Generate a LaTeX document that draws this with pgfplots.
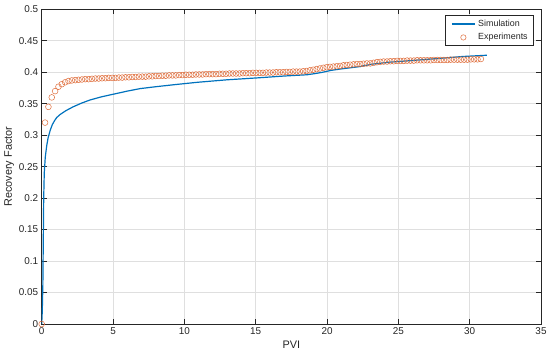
\documentclass[border=0pt]{standalone}
\usepackage{pgfplots}
\pgfplotsset{compat=1.18}
\usepackage{fontspec}
\setmainfont{Liberation Sans}
\definecolor{mblue}{HTML}{0072BD}
\definecolor{morange}{HTML}{D95319}
\definecolor{axc}{HTML}{262626}
\definecolor{gridc}{HTML}{DFDFDF}
\pgfplotsset{
  simleg/.style={legend image code/.code={\path (0bp,0bp); \draw[draw=mblue, line width=1.3bp] (2.4bp,0bp) -- (25.4bp,0bp);}},
  expleg/.style={legend image code/.code={\path (0bp,0bp) (25.4bp,0bp); \draw[draw=morange!85, line width=0.5bp] (13.9bp,0bp) circle[radius=2.7bp];}},
}
\pgfplotstableread{
x y
0 0
0.235 0.320
0.47 0.345
0.705 0.360
0.94 0.370
1.175 0.377
1.41 0.381
1.645 0.384
1.88 0.386
2.115 0.387
2.35 0.3875
2.585 0.388
2.82 0.3885
3.055 0.389
3.29 0.389
3.525 0.3895
3.76 0.390
3.995 0.390
4.23 0.3905
4.465 0.3905
4.70 0.391
4.935 0.391
5.17 0.391
5.405 0.3915
5.64 0.3915
5.875 0.392
6.11 0.392
6.345 0.3925
6.58 0.3925
6.815 0.393
7.05 0.393
7.285 0.393
7.52 0.3935
7.755 0.3935
7.99 0.394
8.225 0.394
8.46 0.3945
8.695 0.3945
8.93 0.395
9.165 0.395
9.40 0.395
9.635 0.3955
9.87 0.3955
10.105 0.396
10.34 0.396
10.575 0.396
10.81 0.3965
11.045 0.3965
11.28 0.3965
11.515 0.397
11.75 0.397
11.985 0.397
12.22 0.397
12.455 0.3975
12.69 0.3975
12.925 0.3975
13.16 0.398
13.395 0.398
13.63 0.398
13.865 0.398
14.10 0.3985
14.335 0.3985
14.57 0.3985
14.805 0.399
15.04 0.399
15.275 0.399
15.51 0.399
15.745 0.3995
15.98 0.3995
16.215 0.3995
16.45 0.400
16.685 0.400
16.92 0.400
17.155 0.4005
17.39 0.4005
17.625 0.401
17.86 0.401
18.095 0.401
18.33 0.4015
18.565 0.402
18.80 0.403
19.035 0.404
19.27 0.405
19.505 0.406
19.74 0.407
19.975 0.408
20.21 0.4085
20.445 0.409
20.68 0.4095
20.915 0.410
21.15 0.411
21.385 0.4115
21.62 0.412
21.855 0.4125
22.09 0.413
22.325 0.413
22.56 0.4135
22.795 0.414
23.03 0.414
23.265 0.415
23.5 0.416
23.735 0.4165
23.97 0.417
24.205 0.417
24.44 0.4175
24.675 0.4175
24.91 0.418
25.145 0.418
25.38 0.418
25.615 0.4185
25.85 0.4185
26.085 0.4185
26.32 0.419
26.555 0.419
26.79 0.419
27.025 0.419
27.26 0.419
27.495 0.4195
27.73 0.4195
27.965 0.4195
28.20 0.4195
28.435 0.4195
28.67 0.420
28.905 0.420
29.14 0.420
29.375 0.420
29.61 0.420
29.845 0.420
30.08 0.4205
30.315 0.4205
30.55 0.4205
30.785 0.421
}\exptable
\pgfplotstableread{
x y
0 0
0.04 0.02
0.08 0.06
0.11 0.13
0.14 0.20
0.18 0.24
0.25 0.265
0.35 0.283
0.45 0.296
0.6 0.308
0.75 0.317
0.9 0.323
1.05 0.328
1.3 0.333
1.7 0.339
2.2 0.345
2.8 0.351
3.4 0.356
4.2 0.361
5.0 0.365
6.0 0.370
6.9 0.374
8.0 0.377
9.2 0.380
10.9 0.384
13.0 0.388
15.1 0.391
17.0 0.394
18.6 0.396
19.2 0.398
19.7 0.400
20.3 0.403
20.9 0.405
22.3 0.409
23.2 0.413
24.4 0.416
25.6 0.418
27.9 0.422
29.5 0.425
31.2 0.427
}\simtable
\begin{document}
\begin{tikzpicture}
\begin{axis}[
  at={(0,0)}, anchor=south west,
  scale only axis, width=499.3bp, height=314.7bp,
  xmin=0, xmax=35, ymin=0, ymax=0.5,
  xtick={0,5,10,15,20,25,30,35},
  ytick={0,0.05,0.1,0.15,0.2,0.25,0.3,0.35,0.4,0.45,0.5},
  yticklabels={0,0.05,0.1,0.15,0.2,0.25,0.3,0.35,0.4,0.45,0.5},
  xticklabels={0,5,10,15,20,25,30,35},
  grid=major,
  major grid style={draw=gridc, line width=0.6bp},
  axis line style={draw=axc, line width=0.7bp},
  tick style={draw=axc, line width=0.7bp},
  tick align=inside,
  major tick length=5bp,
  xtick pos=both, ytick pos=both,
  ticklabel style={font=\fontsize{9.9bp}{11bp}\selectfont, text=axc},
  xlabel={PVI}, ylabel={Recovery Factor},
  ylabel style={yshift=-2bp},
  label style={font=\fontsize{10.9bp}{12bp}\selectfont, text=axc},
  legend style={at={(1,1)}, anchor=north east, xshift=-7bp, yshift=-6.2bp,
    draw=axc, line width=0.6bp, font=\fontsize{8.9bp}{10bp}\selectfont,
    text=axc, inner xsep=3.3bp, inner ysep=2.5bp, row sep=1.9bp,
    nodes={inner xsep=2.7bp, inner ysep=1.5bp, text height=6.5bp, text depth=2bp}},
  legend cell align=left,
]
\addplot[mblue, line width=1.2bp, mark=none, simleg]
  table[x=x,y=y] {\simtable};
\addlegendentry{Simulation}
\addplot[only marks, mark=o, mark size=2.9bp, morange!85, mark options={line width=0.5bp}, expleg]
  table[x=x,y=y] {\exptable};
\addlegendentry{Experiments}
\end{axis}
\pgfresetboundingbox
\path[use as bounding box] (-41.7bp,-34bp) rectangle (508.3bp,324bp);
\end{tikzpicture}
\end{document}
